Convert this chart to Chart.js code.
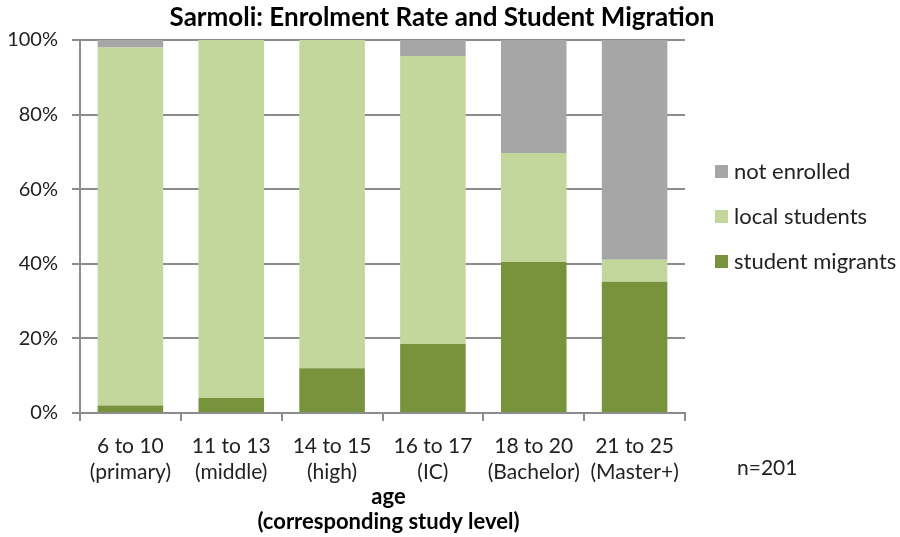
<!DOCTYPE html>
<html><head><meta charset="utf-8">
<script src="https://cdn.jsdelivr.net/npm/chart.js@4"></script>
<style>html,body{margin:0;padding:0;background:#fff}#wrap{width:900px;height:537px;position:relative}</style>
</head><body>
<div id="wrap"><canvas id="c" width="900" height="537"></canvas></div>
<script>
const categories = [["6 to 10","(primary)"],["11 to 13","(middle)"],["14 to 15","(high)"],["16 to 17","(IC)"],["18 to 20","(Bachelor)"],["21 to 25","(Master+)"]];
const studentMigrants = [2, 4, 12, 18.5, 40.5, 35.2];
const localStudents = [96, 96, 88, 77.2, 29.2, 5.9];
const notEnrolled = [2, 0, 0, 4.3, 30.3, 58.9];
const yTicks = [0, 20, 40, 60, 80, 100];
const titleText = "Sarmoli: Enrolment Rate and Student Migration";
const axisTitle = ["age", "(corresponding study level)"];
const noteText = "n=201";

const FONT = "Lato, 'Open Sans', sans-serif";
const gridCol = "#8c8c8c";

const extras = {
  id: 'extras',
  afterDraw(chart) {
    const ctx = chart.ctx;
    const a = chart.chartArea;
    ctx.save();
    ctx.fillStyle = '#000';
    ctx.textAlign = 'center';
    ctx.textBaseline = 'middle';
    ctx.font = "bold 26px " + FONT;
    ctx.fillText(titleText, 442, 18);
    const cx = (a.left + a.right) / 2 + 6;
    ctx.font = "bold 22px " + FONT;
    ctx.fillText(axisTitle[0], cx, 497);
    ctx.fillText(axisTitle[1], cx, 522);
    ctx.font = "21px " + FONT;
    ctx.textAlign = 'left';
    ctx.fillStyle = '#222';
    ctx.fillText(noteText, 737, 468);
    // legend (reversed order)
    const ds = chart.data.datasets.slice().reverse();
    ds.forEach((d, i) => {
      const y = 172 + i * 45;
      ctx.fillStyle = d.backgroundColor;
      ctx.fillRect(715, y - 7, 13, 13);
      ctx.fillStyle = '#222';
      ctx.font = "22px " + FONT;
      ctx.fillText(d.label, 734, y);
    });
    ctx.restore();
  }
};

new Chart(document.getElementById('c'), {
  type: 'bar',
  data: {
    labels: categories,
    datasets: [
      { label: 'student migrants', data: studentMigrants, backgroundColor: '#77933c' },
      { label: 'local students', data: localStudents, backgroundColor: '#c3d69b' },
      { label: 'not enrolled', data: notEnrolled, backgroundColor: '#a6a6a6' }
    ]
  },
  options: {
    responsive: false,
    animation: false,
    devicePixelRatio: 1,
    layout: { padding: { left: 0, top: 40, right: 215, bottom: 0 } },
    datasets: { bar: { categoryPercentage: 1, barPercentage: 0.65, borderWidth: 0 } },
    plugins: { legend: { display: false }, title: { display: false }, tooltip: { enabled: false } },
    scales: {
      x: {
        stacked: true,
        afterFit(s) { s.height = 124; },
        grid: { drawOnChartArea: false, drawTicks: true, tickLength: 8, color: gridCol, lineWidth: 2, offset: true },
        border: { display: true, color: gridCol, width: 2 },
        ticks: { color: '#222', font: { family: FONT, size: 21 }, padding: 13, maxRotation: 0, autoSkip: false }
      },
      y: {
        stacked: true,
        min: 0, max: 100,
        afterFit(s) { s.width = 80; },
        afterBuildTicks(s) { s.ticks = yTicks.map(v => ({ value: v })); },
        grid: { drawTicks: true, tickLength: 8, color: gridCol, lineWidth: 2 },
        border: { display: true, color: gridCol, width: 2 },
        ticks: { color: '#222', font: { family: FONT, size: 20 }, padding: 14, callback: v => v + '%' }
      }
    }
  },
  plugins: [extras]
});
</script>
</body></html>
